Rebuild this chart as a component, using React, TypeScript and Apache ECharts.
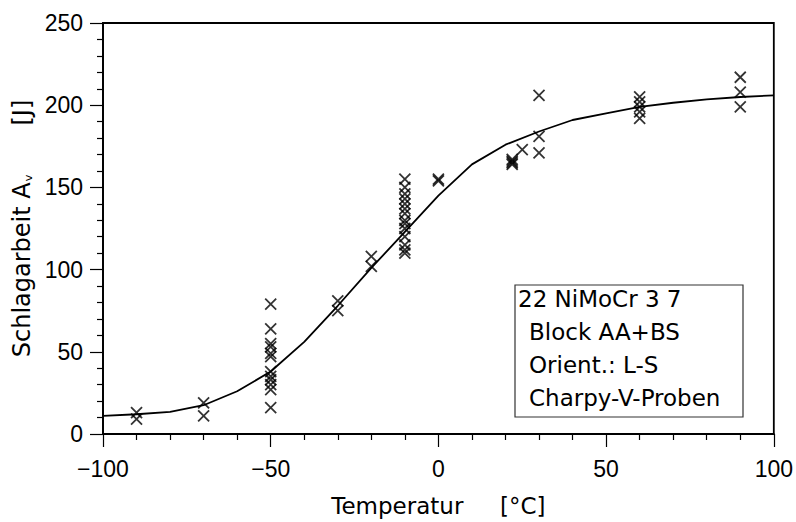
import React, { useEffect, useRef } from "react";
import * as echarts from "echarts";

// Fitted transition curve (Temperatur, Schlagarbeit)
const curveTemp = [-100, -90, -80, -70, -60, -50, -40, -30, -20, -10, 0, 10, 20, 30, 40, 50, 60, 70, 80, 90, 100];
const curveEnergy = [11, 12, 13.5, 17.5, 26, 38, 56, 78, 101, 123, 145, 164, 176, 184, 191, 195, 199, 201.5, 203.5, 205, 206];

// Individual Charpy-V specimens
const specimenTemp = [
  -90, -90,
  -70, -70,
  -50, -50, -50, -50, -50, -50, -50, -50, -50, -50, -50, -50,
  -30, -30,
  -20, -20,
  -10, -10, -10, -10, -10, -10, -10, -10, -10, -10, -10, -10, -10, -10,
  0, 0,
  22, 22, 22, 22,
  25,
  30, 30, 30,
  60, 60, 60, 60, 60,
  90, 90, 90,
];
const specimenEnergy = [
  13, 9,
  19, 11,
  79, 64, 55, 53, 49, 47, 38, 35, 33, 30, 27, 16,
  81, 75,
  108, 102,
  155, 150, 146, 143, 140, 137, 134, 130, 128, 125, 120, 115, 112, 110,
  154, 155,
  167, 166, 165, 164,
  173,
  206, 181, 171,
  205, 202, 199, 196, 192,
  217, 208, 199,
];

const xTicks = { min: -100, max: 100, interval: 50 };
const yTicks = { min: 0, max: 250, interval: 50 };

const legendLines = ["22 NiMoCr 3 7", "Block AA+BS", "Orient.: L-S", "Charpy-V-Proben"];

const TITLE_FONT = "'DejaVu Sans', sans-serif";
const TICK_FONT = "'Liberation Sans', Arial, sans-serif";

export default function App() {
  const ref = useRef<HTMLDivElement | null>(null);

  useEffect(() => {
    if (!ref.current) return;
    const chart = echarts.init(ref.current, undefined, { renderer: "svg" });

    const curveData = curveTemp.map((t, i) => [t, curveEnergy[i]]);
    const specimenData = specimenTemp.map((t, i) => [t, specimenEnergy[i]]);

    const axisCommon = {
      axisLine: { show: true, onZero: false, lineStyle: { color: "#000", width: 1.8 } },
      axisTick: { show: true, inside: false, length: 13, lineStyle: { color: "#000", width: 1.2 } },
      minorTick: { show: true, splitNumber: 5, length: 6, lineStyle: { color: "#000", width: 1.2 } },
      splitLine: { show: false },
      minorSplitLine: { show: false },
    };

    chart.setOption({
      animation: false,
      backgroundColor: "#fff",
      grid: {
        left: 103,
        right: 19,
        top: 23,
        bottom: 85,
        show: true,
        borderColor: "#000",
        borderWidth: 1.8,
        backgroundColor: "transparent",
      },
      xAxis: {
        type: "value",
        min: xTicks.min,
        max: xTicks.max,
        interval: xTicks.interval,
        ...axisCommon,
        axisLabel: {
          margin: 23,
          color: "#000",
          fontSize: 23,
          fontFamily: TICK_FONT,
          formatter: (v: number) => (v < 0 ? "\u2212" + Math.abs(v) : String(v)),
        },
        name: "{t|Temperatur}{g|  [°C]}",
        nameLocation: "middle",
        nameGap: 60,
        nameTextStyle: {
          rich: {
            t: { fontSize: 23, fontFamily: TITLE_FONT, color: "#000" },
            g: { fontSize: 23, fontFamily: TITLE_FONT, color: "#000", padding: [0, 0, 0, 22] },
          },
        },
      },
      yAxis: {
        type: "value",
        min: yTicks.min,
        max: yTicks.max,
        interval: yTicks.interval,
        ...axisCommon,
        axisLabel: {
          margin: 20,
          color: "#000",
          fontSize: 23,
          fontFamily: TICK_FONT,
        },
        name: "{t|Schlagarbeit A}{s|v}{j|  [J]}",
        nameLocation: "middle",
        nameGap: 68,
        nameTextStyle: {
          rich: {
            t: { fontSize: 24, fontFamily: TITLE_FONT, color: "#000" },
            s: { fontSize: 11, fontFamily: TITLE_FONT, color: "#000", verticalAlign: "bottom", padding: [8, 0, 0, 1] },
            j: { fontSize: 24, fontFamily: TITLE_FONT, color: "#000", padding: [0, 0, 0, 34] },
          },
        },
      },
      series: [
        {
          type: "line",
          data: curveData,
          showSymbol: false,
          symbol: "none",
          smooth: false,
          lineStyle: { color: "#000", width: 1.8 },
          z: 2,
        },
        {
          type: "scatter",
          data: specimenData,
          symbol: "path://M0,0L10,10M10,0L0,10",
          symbolSize: 11,
          itemStyle: { color: "none", borderColor: "#000", borderWidth: 1.8 },
          z: 3,
        },
      ],
      graphic: [
        {
          type: "rect",
          shape: { x: 515, y: 285, width: 228, height: 132 },
          style: { fill: "#fff", stroke: "#333", lineWidth: 1.2 },
          z: 10,
        },
        ...legendLines.map((line, i) => ({
          type: "text",
          x: i === 0 ? 518 : 529,
          y: 299 + i * 33,
          style: {
            text: line,
            fill: "#000",
            fontSize: 23,
            fontFamily: TITLE_FONT,
            verticalAlign: "middle",
            align: "left",
          },
          z: 11,
        })),
      ],
    });

    return () => chart.dispose();
  }, []);

  return (
    <div
      ref={ref}
      style={{ position: "fixed", left: 0, top: 0, width: 796, height: 522, background: "#fff" }}
    />
  );
}
